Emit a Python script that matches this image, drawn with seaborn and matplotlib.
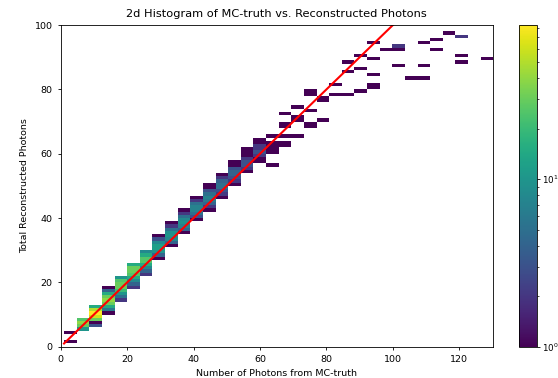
import numpy as np
import pandas as pd
import matplotlib
matplotlib.use("Agg")
import matplotlib.pyplot as plt
from matplotlib.colors import LogNorm
import seaborn as sns

# MC-truth photon count, one entry per histogram column
mc_truth = [3, 7, 10, 14, 18, 22, 26, 30, 33, 37, 41, 45, 49, 52, 56, 60, 64,
            68, 71, 75, 79, 83, 87, 90, 94, 98, 102, 106, 109, 113, 117, 121, 128]

# reconstructed photon counts seen in each column
reco = [
    [1, 4],
    [5, 6, 7, 8],
    [6, 7, 8, 9, 10, 11, 12],
    [10, 11, 12, 13, 14, 15, 16, 17, 18],
    [14, 15, 16, 17, 18, 19, 20, 21],
    [18, 19, 20, 21, 22, 23, 24, 25],
    [22, 23, 24, 25, 26, 27, 28, 29],
    [27, 28, 29, 30, 31, 32, 33, 34],
    [31, 32, 33, 34, 35, 36, 37, 38],
    [35, 36, 37, 38, 39, 40, 41, 42],
    [39, 40, 41, 42, 43, 44, 45, 46],
    [42, 43, 44, 45, 46, 47, 48, 49, 50],
    [46, 47, 48, 49, 50, 51, 52, 53],
    [50, 51, 52, 53, 54, 55, 56, 57],
    [54, 55, 56, 57, 58, 59, 60, 61],
    [57, 58, 59, 60, 61, 62, 63, 64],
    [56, 60, 61, 62, 63, 65],
    [62, 63, 65, 68, 69, 72],
    [65, 70, 71, 74],
    [68, 69, 73, 78, 79],
    [70, 76, 77],
    [78, 81],
    [78, 85, 88],
    [79, 86, 90],
    [80, 81, 84, 89, 94],
    [92],
    [87, 92, 93],
    [83],
    [83, 87, 94],
    [92, 95],
    [97],
    [88, 90, 96],
    [89],
]

# number of events in each (truth, reco) cell
counts = [
    [1, 1],
    [10, 30, 40, 25],
    [3, 1, 30, 60, 83, 50, 15],
    [1, 6, 15, 30, 40, 30, 15, 4, 1],
    [2, 5, 10, 20, 30, 30, 25, 10],
    [2, 4, 8, 15, 25, 30, 30, 15],
    [2, 4, 8, 15, 25, 25, 15, 8],
    [1, 4, 10, 12, 12, 8, 3, 1],
    [1, 4, 8, 10, 9, 5, 2, 1],
    [1, 4, 7, 9, 8, 5, 2, 1],
    [1, 3, 5, 7, 7, 5, 2, 1],
    [1, 2, 4, 6, 7, 5, 3, 1, 1],
    [1, 2, 3, 5, 5, 4, 2, 1],
    [1, 2, 3, 4, 4, 3, 1, 1],
    [1, 2, 3, 3, 2, 1, 1, 1],
    [1, 1, 2, 3, 2, 2, 1, 1],
    [1, 1, 1, 1, 1, 1],
    [1, 1, 1, 1, 1, 1],
    [1, 1, 1, 1],
    [1, 1, 1, 1, 1],
    [1, 1, 1],
    [1, 1],
    [1, 1, 1],
    [1, 1, 1],
    [1, 1, 1, 1, 1],
    [1],
    [1, 1, 2],
    [1],
    [1, 1, 1],
    [1, 1],
    [1],
    [1, 1, 2],
    [1],
]

# reco == truth reference line
diag_x = [1, 130]
diag_y = [1, 130]

rows = []
for xt, ys, cs in zip(mc_truth, reco, counts):
    for yr, c in zip(ys, cs):
        rows.append((xt, yr, c))
df = pd.DataFrame(rows, columns=["truth", "reco", "n"])

plt.rcParams.update({
    "font.size": 6.8,
    "axes.titlesize": 8.2,
    "axes.labelsize": 6.8,
    "xtick.labelsize": 6.8,
    "ytick.labelsize": 6.8,
    "axes.linewidth": 0.6,
    "xtick.major.size": 2.4,
    "ytick.major.size": 2.4,
    "xtick.minor.size": 1.4,
    "ytick.minor.size": 1.4,
    "xtick.major.width": 0.6,
    "ytick.major.width": 0.6,
    "ytick.minor.width": 0.5,
})

fig = plt.figure(figsize=(5.58, 3.78), dpi=100)
ax = fig.add_axes([0.1088, 0.0828, 0.774, 0.851])
cax = fig.add_axes([0.9306, 0.0828, 0.0312, 0.851])

sns.histplot(
    data=df, x="truth", y="reco", weights="n",
    bins=(34, 100), binrange=((1, 130.2), (0, 100)),
    cmap="viridis", norm=LogNorm(vmin=1, vmax=83), vmin=None, vmax=None,
    cbar=True, cbar_ax=cax, ax=ax,
)
sns.lineplot(x=diag_x, y=diag_y, color="red", lw=1.5, ax=ax)

ax.set_xlim(0, 130)
ax.set_ylim(0, 100)
ax.set_title("2d Histogram of MC-truth vs. Reconstructed Photons")
ax.set_xlabel("Number of Photons from MC-truth")
ax.set_ylabel("Total Reconstructed Photons")
cax.tick_params(which="both", pad=1.5, labelsize=6.3)

fig.savefig("out.png", dpi=100)
